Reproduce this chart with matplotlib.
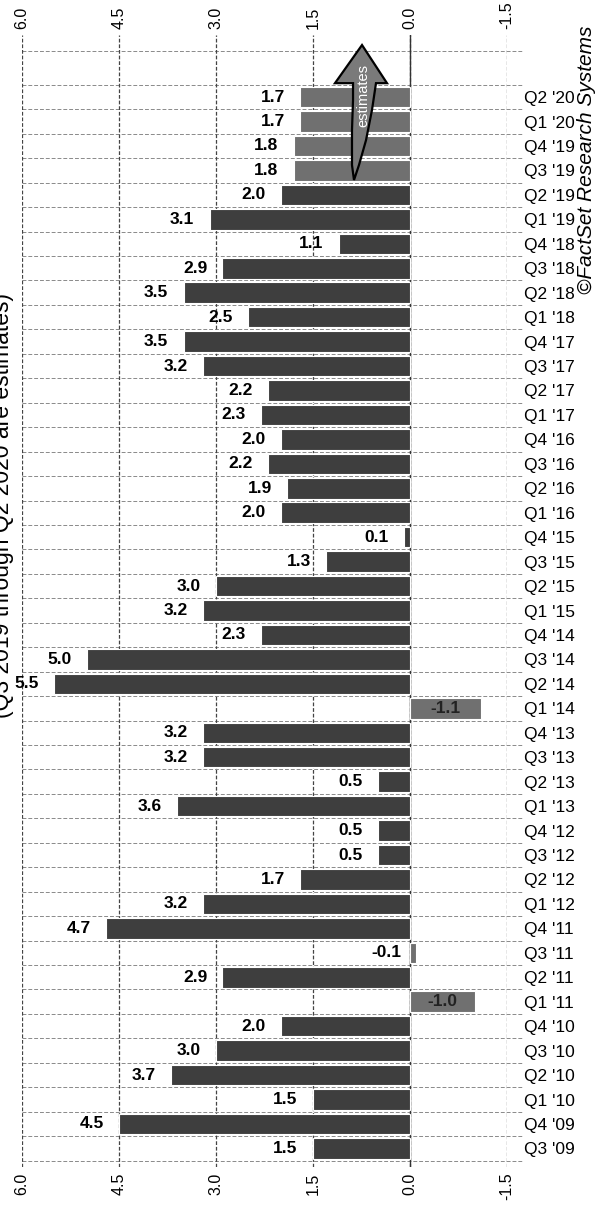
import numpy as np
import matplotlib.pyplot as plt
from matplotlib.patches import Polygon

# quarterly growth, newest first (first four are estimates)
quarters = ["Q2 '20", "Q1 '20", "Q4 '19", "Q3 '19", "Q2 '19", "Q1 '19",
            "Q4 '18", "Q3 '18", "Q2 '18", "Q1 '18", "Q4 '17", "Q3 '17",
            "Q2 '17", "Q1 '17", "Q4 '16", "Q3 '16", "Q2 '16", "Q1 '16",
            "Q4 '15", "Q3 '15", "Q2 '15", "Q1 '15", "Q4 '14", "Q3 '14",
            "Q2 '14", "Q1 '14", "Q4 '13", "Q3 '13", "Q2 '13", "Q1 '13",
            "Q4 '12", "Q3 '12", "Q2 '12", "Q1 '12", "Q4 '11", "Q3 '11",
            "Q2 '11", "Q1 '11", "Q4 '10", "Q3 '10", "Q2 '10", "Q1 '10",
            "Q4 '09", "Q3 '09"]
growth = [1.7, 1.7, 1.8, 1.8, 2.0, 3.1,
          1.1, 2.9, 3.5, 2.5, 3.5, 3.2,
          2.2, 2.3, 2.0, 2.2, 1.9, 2.0,
          0.1, 1.3, 3.0, 3.2, 2.3, 5.0,
          5.5, -1.1, 3.2, 3.2, 0.5, 3.6,
          0.5, 0.5, 1.7, 3.2, 4.7, -0.1,
          2.9, -1.0, 2.0, 3.0, 3.7, 1.5,
          4.5, 1.5]
n_estimates = 4
xticks = [6.0, 4.5, 3.0, 1.5, 0.0, -1.5]

plt.rcParams['font.family'] = ['Liberation Sans', 'DejaVu Sans']
plt.rcParams['axes.unicode_minus'] = False

fig = plt.figure(figsize=(5.99, 12.05), dpi=100)
ax = fig.add_axes([22 / 599, 38 / 1205, 485 / 599, 1132 / 1205])

pos = np.arange(len(quarters))
colors = []
for i, v in enumerate(growth):
    if i < n_estimates or v < 0:
        colors.append('#707070')
    else:
        colors.append('#3e3e3e')

ax.barh(pos, growth, height=0.84, color=colors, edgecolor='white',
        linewidth=0.8, zorder=2)

ax.set_xlim(6.0, -1.5)
ax.set_ylim(43.76, -2.54)

# grid: dashed lines between rows, dotted verticals at the ticks
tr = ax.get_yaxis_transform()
row_lines = list(np.arange(-0.5, len(quarters), 1.0)) + [-1.88]
ax.hlines(row_lines, 0, 1.03, transform=tr, colors='#8a8a8a',
          linestyles=(0, (4, 2)), linewidth=0.7, clip_on=False, zorder=1)
for t in xticks:
    ax.axvline(t, color='#444444', linestyle=(0, (3, 1.5)), linewidth=0.9, zorder=1)
ax.axvline(0.0, color='#333333', linewidth=1.0, zorder=1)
for s in ax.spines.values():
    s.set_visible(False)

ax.set_xticks(xticks)
ax.set_xticklabels([f"{t:.1f}" for t in xticks], rotation=90, fontsize=11.5)
ax.tick_params(axis='x', top=True, labeltop=True, bottom=True,
               labelbottom=True, length=0, pad=4)
ax.set_yticks(pos)
ax.set_yticklabels(quarters, fontsize=12.5)
ax.yaxis.tick_right()
ax.tick_params(axis='y', length=0, pad=12)

# value labels
for i, v in enumerate(growth):
    txt = f"{v:.1f}"
    if v <= -0.5:
        ax.text(v / 2, i, txt, ha='center', va='center', fontsize=12.5,
                fontweight='bold', color='#222222', zorder=4)
    elif v < 0:
        ax.annotate(txt, (0, i), xytext=(-6, 0), textcoords='offset points',
                    ha='right', va='center', fontsize=12.5, fontweight='bold')
    else:
        ax.annotate(txt, (v, i), xytext=(-11, 0), textcoords='offset points',
                    ha='right', va='center', fontsize=12.5, fontweight='bold')

# "estimates" arrow over the forecast bars
arrow = Polygon([(0.742, -2.13), (0.356, -0.57), (0.526, -0.57), (0.588, 0.53),
                 (0.680, 1.76), (0.789, 2.78), (0.866, 3.39), (0.897, 2.78),
                 (0.897, 1.35), (0.881, 0.12), (0.881, -0.57), (1.160, -0.57)],
                closed=True, facecolor='#7a7a7a', edgecolor='black',
                linewidth=1.6, zorder=5)
ax.add_patch(arrow)
ax.text(0.727, -0.08, "estimates", rotation=90, ha='center', va='center',
        color='white', fontsize=10.5, zorder=6)

fig.text(586 / 599, 1 - 160 / 1205, "\u00a9FactSet Research Systems",
         rotation=90, ha='center', va='center', fontsize=15, style='italic')
fig.text(3 / 599, 1 - 505 / 1205, "(Q3 2019 through Q2 2020 are estimates)",
         rotation=90, ha='center', va='center', fontsize=16.5)

fig.savefig("out.png", dpi=100)
